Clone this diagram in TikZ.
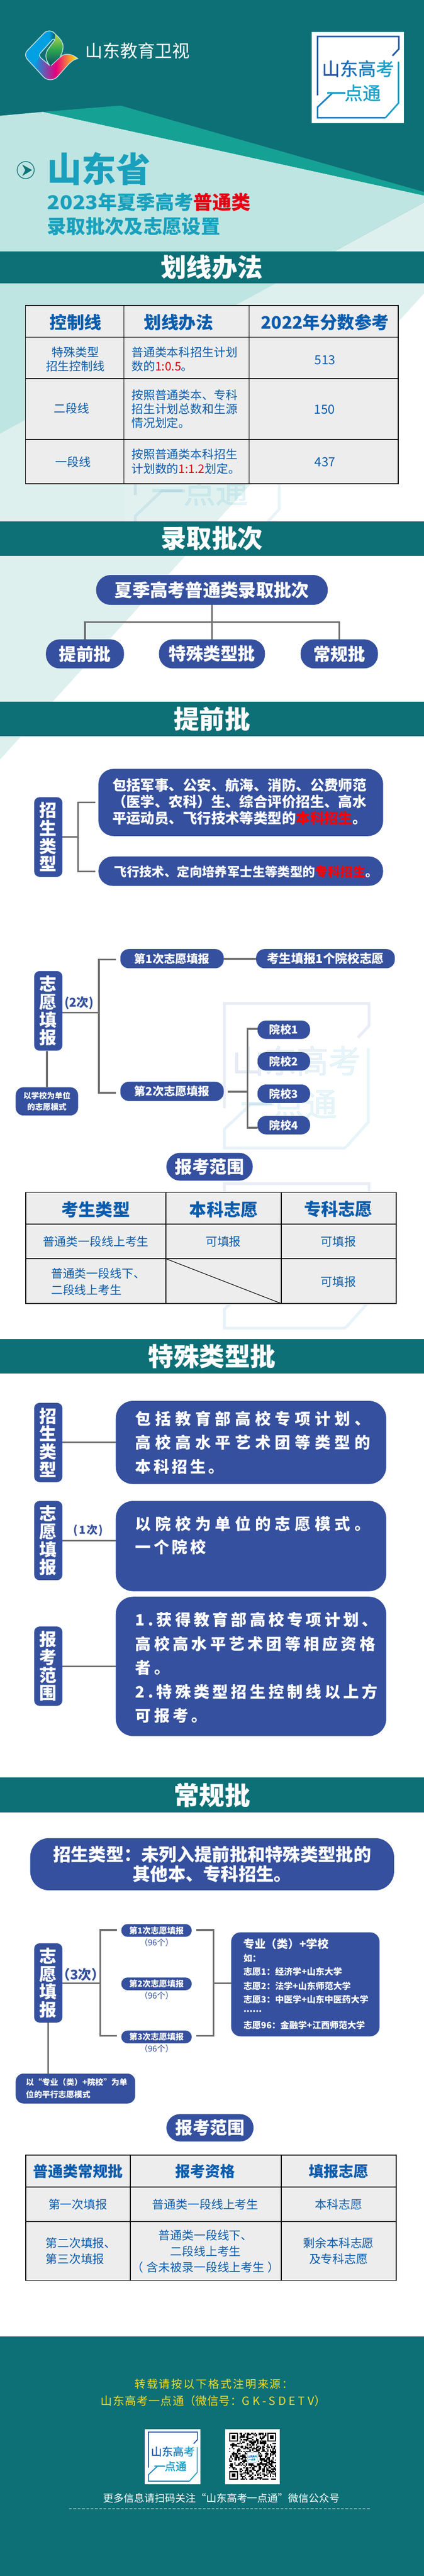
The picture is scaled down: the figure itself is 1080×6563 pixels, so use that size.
\documentclass[tikz,border=0pt]{standalone}
\usepackage{fontspec}
\setmainfont{Noto Sans CJK SC}
\newcommand\fsz[2]{\fontsize{#1}{#2}\selectfont}
\newcommand\lsp[2]{{\addfontfeature{LetterSpace=#1}#2}}
\newcommand\semib[1]{{\addfontfeature{FakeBold=1.2}#1}}
\definecolor{teal1}{HTML}{0D7076}
\definecolor{teal2}{HTML}{16A195}
\definecolor{pale1}{HTML}{BEE5E2}
\definecolor{pale2}{HTML}{DDF0EE}
\definecolor{nblue}{HTML}{35509E}
\definecolor{conng}{HTML}{707070}
\definecolor{cellg}{HTML}{EDEDED}
\definecolor{tblue}{HTML}{0B5CAD}
\definecolor{ttl}{HTML}{19A0BC}
\definecolor{red1}{HTML}{E60012}
\definecolor{yel}{HTML}{F2DC27}
\definecolor{ydtA}{HTML}{1F56A8}
\definecolor{ydtB}{HTML}{1C80C0}
\definecolor{ydtC}{HTML}{19A0C8}
\definecolor{ydtD}{HTML}{1C6CB8}
\definecolor{outl}{HTML}{BFE0DE}
\definecolor{logoB}{HTML}{00A0E2}
\definecolor{logoD}{HTML}{0A5A6E}
\definecolor{logoM}{HTML}{E6007D}
\definecolor{logoY}{HTML}{FFF000}
\definecolor{logoG}{HTML}{2DA550}
\definecolor{logoL}{HTML}{B9D746}
\definecolor{logoT}{HTML}{0A5564}
\tikzset{
 band/.style={fill=teal1,minimum width=1080pt,inner sep=0pt,text=white,font=\fsz{65}{70}\bfseries},
 bbox/.style={fill=nblue,inner sep=0pt,text=white,align=center},
 vbox/.style={bbox,minimum width=72pt,minimum height=202pt,rounded corners=14pt,font=\fsz{44}{45.5}\bfseries},
 conn/.style={draw=conng,line width=4.5pt,line join=miter},
 txtw/.style={text=white,inner sep=0pt,align=left},
 txtb/.style={text=nblue,inner sep=0pt,align=center},
 hcell/.style={text=tblue,inner sep=0pt,align=center},
 cell/.style={text=tblue,inner sep=0pt,align=center,font=\fsz{30}{36}},
 lcell/.style={cell,align=left,anchor=west},
 grid/.style={draw=black,line width=2.2pt},
 ydttext/.style={inner sep=0pt,font=\fsz{46}{46}},
}
\newcommand\ydtlogo[5]{%
\begin{scope}[shift={(#1,#2)},scale=#3,opacity=#4,transform shape]
\fill[white] (0,0) rectangle (235,233);
\draw[draw=ydtA,line width=#3*4pt,line join=miter] (15,162)--(15,12)--(222,12)--(222,44)--(206,61);
\draw[draw=ydtC,line width=#3*4pt] (221,76)--(221,182)--(188,219);
\draw[draw=ydtB,line width=#3*4pt] (188,219)--(15,219)--(15,192)--(53,156)--(86,156);
\node[ydttext] (#5a) at (118,94) {\semib{\textcolor{ydtA}{山}\textcolor{ydtD}{东}\textcolor{ydtB}{高}\textcolor{ydtC}{考}}};
\node[ydttext,text=ydtC] (#5b) at (107,156) {\semib{一点通}};
\end{scope}}
\newcommand\qrfinder[2]{%
\fill[white] (#1-3.2,#2-3.2) rectangle (#1+25.9,#2+25.9);
\fill[black] (#1,#2) rectangle (#1+22.68,#2+22.68);
\fill[white] (#1+3.24,#2+3.24) rectangle (#1+19.44,#2+19.44);
\fill[black] (#1+6.48,#2+6.48) rectangle (#1+16.2,#2+16.2);}
\begin{document}
\begin{tikzpicture}[x=1pt,y=-1pt]
\useasboundingbox (0,0) rectangle (1080,6563);
% ---------- background
\fill[white] (0,0) rectangle (1080,6563);
\fill[teal1] (0,0) rectangle (1080,640);
\fill[pale2] (0,1105) -- (1080,516) -- (1080,748) -- (0,1935) -- cycle;
\fill[pale1] (0,295) -- (110,285) -- (1080,498) -- (1080,516) -- (0,1105) -- cycle;
\fill[teal2] (110,285) -- (307,269) -- (1080,489) -- (1080,498) -- cycle;
\ydtlogo{318}{973}{1.78}{0.1}{wa}
\ydtlogo{545}{2535}{1.78}{0.1}{wb}
\ydtlogo{545}{2994}{1.78}{0.1}{wc}
% ---------- header logo
\begin{scope}[shift={(50,70)},x=0.3333pt,y=-0.3333pt]
\fill[logoB] (190,40) .. controls (215,20) and (250,22) .. (272,50) -- (268,92) -- (155,205) -- (155,225) -- (200,270) -- (190,380) -- (60,245) .. controls (40,220) and (40,195) .. (60,175) -- cycle;
\shade[left color=logoB,right color=logoD] (225,27) .. controls (245,28) and (260,35) .. (272,50) -- (268,92) -- (240,120) -- cycle;
\shade[left color=logoB,right color=logoY,middle color=logoM] (155,225) -- (235,295) -- (310,228) .. controls (335,200) and (385,190) .. (445,238) .. controls (410,245) and (390,265) .. (370,285) -- (290,375) .. controls (265,405) and (210,410) .. (180,375) -- (110,298) -- cycle;
\shade[top color=logoL,bottom color=logoT,middle color=logoG] (272,50) .. controls (300,75) and (335,110) .. (332,150) .. controls (330,190) and (315,210) .. (300,225) -- (240,290) .. controls (195,240) and (190,200) .. (225,155) -- (268,105) -- cycle;
\draw[outl,line width=2pt,line join=round] (190,40) .. controls (215,20) and (250,22) .. (272,50) .. controls (300,75) and (335,110) .. (332,150) .. controls (330,190) and (315,210) .. (310,228) .. controls (335,200) and (385,190) .. (445,238) .. controls (410,245) and (390,265) .. (370,285) -- (290,375) .. controls (265,405) and (210,410) .. (180,375) -- (60,245) .. controls (40,220) and (40,195) .. (60,175) -- cycle;
\fill[teal1,draw=outl,line width=2pt,line join=round] (270,95) .. controls (265,88) and (258,88) .. (252,92) -- (155,200) .. controls (150,212) and (152,222) .. (160,230) -- (228,290) .. controls (195,240) and (190,200) .. (225,155) -- cycle;
\draw[outl,line width=1.5pt] (240,292) -- (310,228);
\end{scope}
\node[inner sep=0pt,text=white,font=\fsz{44.5}{46}] (brand) at (350.5,129) {山东教育卫视};
\ydtlogo{794}{81}{1}{1}{la}
% ---------- title
\coordinate (circ) at (65.4,433.3);
\draw[teal1,line width=1.8pt] (circ) circle (21.7);
\fill[teal1!90!teal2] (56.7,419.3) -- (81.7,433.3) -- (56.7,448.3) -- (64.3,433.3) -- cycle;
\node[anchor=west,inner sep=0pt,text=ttl,font=\fsz{88}{90}\bfseries] (tA) at (120,430) {山东省};
\node[anchor=west,inner sep=0pt,text=ttl,font=\fsz{48.5}{50}\bfseries] (tB) at (120,515) {\scalebox{1.1}[1]{2023}年夏季高考\textcolor{red1}{普通类}};
\node[anchor=west,inner sep=0pt,text=ttl,font=\fsz{49}{50}\bfseries] (tC) at (120,577) {录取批次及志愿设置};
% ---------- bands
\node[band,minimum height=82pt] (band1) at (540,681) {划线办法};
\node[band,minimum height=88pt] (band2) at (540,1372) {录取批次};
\node[band,minimum height=88pt] (band3) at (540,1832) {提前批};
\node[band,minimum height=88pt] (band4) at (540,3456) {特殊类型批};
\node[band,minimum height=89pt] (band5) at (540,4573.5) {常规批};
% ---------- table 1
\fill[cellg] (65,778) rectangle (1015,1232.5);
\draw[grid] (65,778) rectangle (1015,1232.5);
\draw[grid] (65,859) -- (1015,859) (65,965) -- (1015,965) (65,1120) -- (1015,1120);
\draw[grid] (315.5,778) -- (315.5,1232.5) (634.5,778) -- (634.5,1232.5);
\node[hcell,font=\fsz{44}{46}\bfseries] (h11) at (193,821) {控制线};
\node[hcell,font=\fsz{44}{46}\bfseries] (h12) at (455,821) {划线办法};
\node[hcell,font=\fsz{44}{46}\bfseries] (h13) at (828,821) {2022年分数参考};
\node[cell] (c11) at (192,915.5) {特殊类型\\招生控制线};
\node[lcell] (c12) at (335,915.5) {普通类本科招生计划\\数的\textcolor{red1}{1:0.5}。};
\node[cell,font=\fsz{32}{36}] (c13) at (828,917) {513};
\node[cell] (c21) at (182,1041) {二段线};
\node[lcell] (c22) at (335,1042) {按照普通类本、专科\\招生计划总数和生源\\情况划定。};
\node[cell,font=\fsz{32}{36}] (c23) at (827,1043) {150};
\node[cell] (c31) at (186,1176.5) {一段线};
\node[lcell] (c32) at (335,1176) {按照普通类本科招生\\计划数的\textcolor{red1}{1:1.2}划定。};
\node[cell,font=\fsz{32}{36}] (c33) at (828,1177) {437};
% ---------- batches
\node[bbox,minimum width=590pt,minimum height=76pt,rounded corners=37pt,font=\fsz{45}{46}\bfseries] (top) at (540,1503) {夏季高考普通类录取批次};
\node[bbox,minimum width=199pt,minimum height=74pt,rounded corners=35pt,font=\fsz{44}{46}\bfseries] (b1) at (216.5,1666) {提前批};
\node[bbox,minimum width=270pt,minimum height=74pt,rounded corners=35pt,font=\fsz{44}{46}\bfseries] (b2) at (540,1666) {特殊类型批};
\node[bbox,minimum width=197pt,minimum height=74pt,rounded corners=35pt,font=\fsz{44}{46}\bfseries] (b3) at (864.5,1666) {常规批};
\coordinate (bus) at (540,1585);
\draw[conn] (top.south) -- (b2.north);
\draw[conn] (b1.north) |- (bus) -| (b3.north);
% ---------- early batch
\node[vbox,minimum height=203pt] (v1) at (123,2132.5) {招\\生\\类\\型};
\node[bbox,minimum width=725pt,minimum height=171pt,rounded corners=38pt] (A) at (613.5,2044.5) {};
\node[txtw,anchor=west,font=\fsz{36}{42}\bfseries] (Atx) at (286,2042) {包括军事、公安、航海、消防、公费师范\\（医学、农科）生、综合评价招生、高水\\平运动员、飞行技术等类型的\textcolor{red}{本科招生}。};
\node[bbox,minimum width=725pt,minimum height=75pt,rounded corners=36pt] (B) at (613.5,2219.5) {};
\node[txtw,anchor=west,font=\fsz{32}{36}\bfseries] (Btx) at (291,2221) {飞行技术、定向培养军士生等类型的\textcolor{red}{专科招生}。};
\coordinate (j1) at (198.5,2132.5);
\coordinate (e1) at (242.5,2044);
\coordinate (e2) at (242.5,2220);
\draw[conn] (v1.east) -- (j1);
\draw[conn] (e1) -| (j1) |- (e2);
\node[vbox,minimum height=203pt] (v2) at (123,2575.5) {志\\愿\\填\\报};
\node[txtb,font=\fsz{31}{34}\bfseries] (n2) at (201.5,2555) {(2次)};
\node[bbox,minimum width=263.5pt,minimum height=49pt,rounded corners=22pt,font=\fsz{29}{32}\bfseries] (c1) at (438.25,2442.5) {第1次志愿填报};
\node[bbox,minimum width=353.5pt,minimum height=49pt,rounded corners=22pt,font=\fsz{31}{32}\bfseries] (c1r) at (829.25,2442.5) {考生填报1个院校志愿};
\node[bbox,minimum width=263.5pt,minimum height=49pt,rounded corners=22pt,font=\fsz{29}{32}\bfseries] (c2) at (438.25,2780.5) {第2次志愿填报};
\node[bbox,minimum width=134pt,minimum height=47pt,rounded corners=22pt,font=\fsz{28}{30}\bfseries] (s1) at (723,2623.5) {院校1};
\node[bbox,minimum width=134pt,minimum height=47pt,rounded corners=22pt,font=\fsz{28}{30}\bfseries] (s2) at (723,2704) {院校2};
\node[bbox,minimum width=134pt,minimum height=47pt,rounded corners=22pt,font=\fsz{28}{30}\bfseries] (s3) at (723,2786.5) {院校3};
\node[bbox,minimum width=134pt,minimum height=47pt,rounded corners=22pt,font=\fsz{28}{30}\bfseries] (s4) at (723,2866.5) {院校4};
\node[bbox,minimum width=159pt,minimum height=72pt,rounded corners=20pt,font=\fsz{20}{29}\bfseries] (m1) at (119.5,2806) {以学校为单位\\的志愿模式};
\coordinate (j2) at (252,2580);
\coordinate (e3) at (295,2445);
\coordinate (e4) at (295,2784);
\draw[conn] ([yshift=-4.5pt]v2.east) -- (j2);
\draw[conn] (e3) -| (j2) |- (e4);
\draw[conn] (c1.east) -- (c1r.west);
\coordinate (g1) at (580,2781.5);
\coordinate (j3) at (630.5,2781.5);
\coordinate (s1l) at (656,2621);
\coordinate (s4l) at (656,2873.5);
\draw[conn] (g1) -- (j3);
\draw[conn] (s1l) -| (j3) |- (s4l);
\draw[conn] (v2.south -| m1.north) -- (m1.north);
\node[bbox,minimum width=220pt,minimum height=71pt,rounded corners=35pt,font=\fsz{44}{46}\bfseries] (r1) at (534,2972.5) {报考范围};
% ---------- table 2
\fill[cellg] (65.5,3038) rectangle (1009.5,3321);
\draw[grid] (65.5,3038) rectangle (1009.5,3321);
\draw[grid] (65.5,3119) -- (1009.5,3119) (65.5,3207) -- (1009.5,3207);
\draw[grid] (423,3038) -- (423,3321) (716.5,3038) -- (716.5,3321);
\draw[draw=black,line width=1.5pt] (423,3207) -- (716.5,3321);
\node[hcell,font=\fsz{43.5}{46}\bfseries] (h21) at (244,3082) {考生类型};
\node[hcell,font=\fsz{43.5}{46}\bfseries] (h22) at (570,3082) {本科志愿};
\node[hcell,font=\fsz{43.5}{46}\bfseries] (h23) at (862,3081) {专科志愿};
\node[cell] (d11) at (244,3163) {普通类一段线上考生};
\node[cell] (d12) at (569,3163) {可填报};
\node[cell] (d13) at (862.5,3163) {可填报};
\node[lcell,font=\fsz{30}{41}] (d21) at (130,3265.5) {普通类一段线下、\\二段线上考生};
\node[cell] (d23) at (862.5,3265) {可填报};
% ---------- special batch
\node[vbox] (v3) at (123,3675) {招\\生\\类\\型};
\node[vbox] (v4) at (123,3925) {志\\愿\\填\\报};
\node[vbox] (v5) at (123,4245) {报\\考\\范\\围};
\node[bbox,minimum width=689pt,minimum height=212pt,rounded corners=44pt] (A3) at (639.5,3675) {};
\node[bbox,minimum width=689pt,minimum height=230pt,rounded corners=44pt] (B3) at (639.5,3939) {};
\node[bbox,minimum width=689pt,minimum height=355pt,rounded corners=44pt] (C3) at (639.5,4245.5) {};
\node[txtw,anchor=west,font=\fsz{40}{61}\bfseries] (A3t) at (345,3675) {\lsp{27}{包括教育部高校专项计划、}\\\lsp{27}{高校高水平艺术团等类型的}\\\lsp{16}{本科招生。}};
\node[txtw,anchor=west,font=\fsz{40}{59}\bfseries] (B3t) at (345,3912) {\lsp{27}{以院校为单位的志愿模式。}\\\lsp{16}{一个院校}};
\node[txtw,anchor=west,font=\fsz{40}{61}\bfseries] (C3t) at (345,4249) {\lsp{19}{1.获得教育部高校专项计划、}\\\lsp{19}{高校高水平艺术团等相应资格}\\\lsp{19}{者。}\\\lsp{19}{2.特殊类型招生控制线以上方}\\\lsp{19}{可报考。}};
\draw[conn,line width=4pt] (v3.east) -- (A3.west);
\draw[conn,line width=4pt] (v4.east) -- (B3.west |- v4.east);
\draw[conn,line width=4pt] (v5.east) -- (C3.west |- v5.east);
\node[txtb,font=\fsz{28}{30}\bfseries] (n1) at (225,3899) {\lsp{10}{(1次)}};
% ---------- regular batch
\node[bbox,minimum width=927pt,minimum height=133pt,rounded corners=48pt,font=\fsz{45}{50}\bfseries] (top4) at (540.5,4749.5) {招生类型：未列入提前批和特殊类型批的\\其他本、专科招生。};
\node[vbox] (v6) at (123,5052) {志\\愿\\填\\报};
\node[txtb,font=\fsz{34}{36}\bfseries] (n3) at (206,5031) {（3次）};
\node[bbox,minimum width=179.5pt,minimum height=32.5pt,rounded corners=16pt,font=\fsz{21}{24}\bfseries] (e1n) at (398.75,4918.25) {第1次志愿填报};
\node[bbox,minimum width=179.5pt,minimum height=32.5pt,rounded corners=16pt,font=\fsz{21}{24}\bfseries] (e2n) at (398.75,5054.3) {第2次志愿填报};
\node[bbox,minimum width=179.5pt,minimum height=32.5pt,rounded corners=16pt,font=\fsz{21}{24}\bfseries] (e3n) at (398.75,5189.5) {第3次志愿填报};
\node[txtb,font=\fsz{21}{24}] (p1) at (399,4949) {（96个）};
\node[txtb,font=\fsz{21}{24}] (p2) at (399,5084) {（96个）};
\node[txtb,font=\fsz{21}{24}] (p3) at (399,5220) {（96个）};
\node[bbox,minimum width=378pt,minimum height=265pt,rounded corners=24pt] (big) at (778,5055.5) {};
\node[txtw,anchor=west,font=\fsz{28.5}{30}\bfseries] (bg1) at (620,4952) {专业（类）+学校};
\node[txtw,anchor=west,font=\fsz{22.4}{26}\bfseries] (bg2) at (620,4989) {如：};
\node[txtw,anchor=west,font=\fsz{22.4}{26}\bfseries] (bg3) at (620,5023.5) {志愿1：经济学+山东大学};
\node[txtw,anchor=west,font=\fsz{22.4}{26}\bfseries] (bg4) at (620,5060) {志愿2：法学+山东师范大学};
\node[txtw,anchor=west,font=\fsz{22.4}{26}\bfseries] (bg5) at (620,5094) {志愿3：中医学+山东中医药大学};
\node[txtw,anchor=west,font=\fsz{22.4}{26}\bfseries] (bg6) at (620,5124) {......};
\node[txtw,anchor=west,font=\fsz{22.4}{26}\bfseries] (bg7) at (620,5160) {志愿96：金融学+江西师范大学};
\node[bbox,minimum width=304.5pt,minimum height=76pt,rounded corners=20pt] (m2) at (192.25,5321) {};
\node[txtw,anchor=west,font=\fsz{20.5}{31}\bfseries] (m2t) at (66,5320.5) {以“专业（类）+院校”为单\\位的平行志愿模式};
\coordinate (j4) at (255,5053);
\coordinate (u1) at (298,4917);
\coordinate (u3) at (298,5187);
\coordinate (w1) at (500,4917);
\coordinate (w3) at (500,5187);
\coordinate (j5) at (544,5053);
\draw[conn] (v6.east |- j4) -- (j4);
\draw[conn] (u1) -| (j4) |- (u3);
\draw[conn] (w1) -| (j5) |- (w3);
\draw[conn] (j5) -- (big.west |- j5);
\draw[conn] (v6.south) -- (v6.south |- m2.north);
\node[bbox,minimum width=222pt,minimum height=70pt,rounded corners=35pt,font=\fsz{44}{46}\bfseries] (r2) at (535,5421) {报考范围};
% ---------- table 3
\fill[cellg] (65.5,5490.5) rectangle (1009.5,5810);
\draw[grid] (65.5,5490.5) rectangle (1009.5,5810);
\draw[grid] (65.5,5572) -- (1009.5,5572) (65.5,5659.6) -- (1009.5,5659.6);
\draw[grid] (332,5490.5) -- (332,5810) (716.5,5490.5) -- (716.5,5810);
\node[hcell,font=\fsz{38}{40}\bfseries] (h31) at (198.5,5532) {普通类常规批};
\node[hcell,font=\fsz{38}{40}\bfseries] (h32) at (523.5,5532) {报考资格};
\node[hcell,font=\fsz{38}{40}\bfseries] (h33) at (862.6,5532) {填报志愿};
\node[cell] (f11) at (198.5,5616.6) {第一次填报};
\node[cell] (f12) at (523.5,5616.6) {普通类一段线上考生};
\node[cell] (f13) at (862.6,5616.6) {本科志愿};
\node[lcell,font=\fsz{30}{41}] (f21) at (116,5735.5) {第二次填报、\\第三次填报};
\node[cell,font=\fsz{30}{41}] (f22) at (524,5736) {普通类一段线下、\\二段线上考生\\（\hspace{8pt}含未被录一段线上考生\hspace{8pt}）};
\node[cell,font=\fsz{30}{41}] (f23) at (862.6,5735.5) {剩余本科志愿\\及专科志愿};
% ---------- footer
\fill[teal1] (0,5953) rectangle (1080,6563);
\node[inner sep=0pt,text=yel,font=\fsz{28}{30}] (y1) at (545,6073.5) {\lsp{12}{转载请按以下格式注明来源：}};
\node[inner sep=0pt,text=yel,font=\fsz{29}{30}] (y2) at (543.5,6116.5) {\lsp{5}{山东高考一点通}（\lsp{3}{微信号：}\lsp{24}{GK-SDETV}）};
\ydtlogo{369}{6189}{0.604}{1}{lb}
\fill[white] (573,6189) rectangle (713,6329);
\pgfmathsetseed{4217}
\foreach \i in {0,...,36}{\foreach \j in {0,...,36}{%
 \pgfmathsetmacro\rr{rnd}%
 \ifdim\rr pt<0.5pt \fill[black] (584+\i*3.24,6198+\j*3.24) rectangle (584+\i*3.24+3.3,6198+\j*3.24+3.3);\fi}}
\qrfinder{584}{6198}
\qrfinder{681.2}{6198}
\qrfinder{584}{6295.2}
\ydtlogo{628.5}{6246.5}{0.125}{1}{lc}
\node[inner sep=0pt,text=white,font=\fsz{26.2}{28}] (y3) at (564.5,6364) {更多信息请扫码关注“山东高考一点通”微信公众号};
\coordinate (da) at (176,6392);
\coordinate (db) at (943,6392);
\draw[white!85!teal1,line width=1.6pt,dash pattern=on 7pt off 4pt] (da) -- (db);
\end{tikzpicture}
\end{document}
